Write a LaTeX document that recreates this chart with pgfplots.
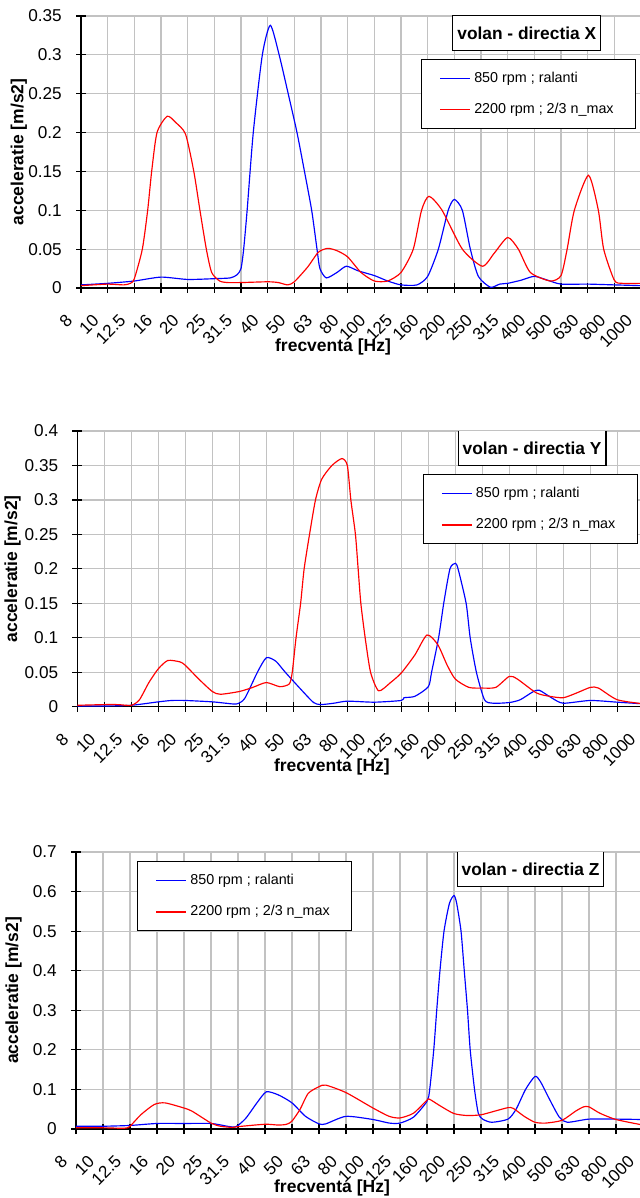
\documentclass[border=0pt]{standalone}
\usepackage{fontspec}
\setmainfont{Liberation Sans}
\usepackage{pgfplots}
\pgfplotsset{compat=1.18}

% common look of the three spectra (1 px of the reference = 0.6pt)
\pgfplotsset{
  panel/.style={
    scale only axis,
    anchor=south west,
    xmin=0, xmax=21, ymin=0,
    xtick={0,...,21},
    xticklabels={8,10,12.5,16,20,25,31.5,40,50,63,80,100,125,160,200,250,315,400,500,630,800,1000},
    axis x line*=bottom, axis y line*=left,
    axis line style={-, black, line width=0.8pt},
    tick align=center, major tick length=6pt,
    tick style={black, line width=0.7pt},
    grid=major,
    major grid style={draw=black!24, line width=0.7pt},
    /pgf/number format/fixed, /pgf/number format/precision=2,
    /pgf/number format/assume math mode=true,
    tick label style={font=\fontsize{10.3}{12}\selectfont},
    xticklabel style={inner sep=0pt, xshift=-7pt, yshift=-14.6pt, rotate=45, anchor=east},
    yticklabel style={xshift=-5pt},
    label style={font=\bfseries\fontsize{10.5}{12}\selectfont},
    xlabel={frecventa [Hz]},
    ylabel={acceleratie [m/s2]},
    legend style={draw=black, fill=white, font=\fontsize{8.6}{10}\selectfont,
      inner xsep=11pt, inner ysep=5.5pt, row sep=7.2pt, cells={anchor=west}},
    legend image code/.code={\draw[#1, line width=0.8pt] (0pt,0pt) -- (18pt,0pt);},
  },
}
\tikzset{
  sblue/.style={draw=blue, line width=0.7pt, smooth, tension=0.4},
  sred/.style={draw=red, line width=0.7pt, smooth, tension=0.4},
  titlebox/.style={draw=black, fill=white, line width=0.7pt,
    font=\bfseries\fontsize{10.4}{12}\selectfont, minimum height=21pt, inner xsep=2.7pt},
}

\begin{document}
\begin{tikzpicture}
\useasboundingbox (0,0) rectangle (383.4pt,-718.8pt);

% ---------------- directia X ----------------
\begin{axis}[panel,
  at={(48.6pt,-172.8pt)}, width=336pt, height=163.2pt,
  ymax=0.35, ytick={0,0.05,0.1,0.15,0.2,0.25,0.3,0.35},
  xlabel style={at={(axis description cs:0.45,-0.217)}, anchor=center},
  ylabel style={at={(axis description cs:-0.111,0.5)}, anchor=center},
  legend style={at={(0.607,0.842)}, anchor=north west},
]
\addplot[sblue] coordinates {
  (0,0.004) (1,0.006) (2,0.009) (3,0.014) (4,0.011) (5,0.012) (5.6,0.013)
  (5.85,0.017) (6,0.025) (6.1,0.05) (6.23,0.1) (6.46,0.2) (6.8,0.3) (7.1,0.338)
  (7.43,0.3) (7.77,0.25) (8.1,0.2) (8.38,0.15) (8.65,0.1) (8.85,0.05) (8.96,0.025)
  (9.2,0.013) (9.6,0.02) (9.95,0.028) (10.4,0.022) (11,0.016) (11.5,0.009)
  (12,0.004) (12.6,0.004) (13,0.015) (13.4,0.05) (13.77,0.1) (14,0.114) (14.3,0.1)
  (14.6,0.05) (14.9,0.015) (15.35,0.001) (15.7,0.005) (16,0.006) (16.5,0.01)
  (17,0.015) (17.5,0.01) (18,0.005) (19,0.005) (20,0.004) (21,0.003)
};
\addlegendentry{850 rpm ; ralanti}
\addplot[sred] coordinates {
  (0,0.003) (1,0.005) (1.6,0.004) (1.85,0.006) (2,0.012) (2.3,0.05) (2.5,0.1)
  (2.65,0.15) (2.85,0.2) (3.23,0.221) (3.55,0.213) (3.92,0.198) (4.23,0.15)
  (4.46,0.1) (4.7,0.05) (4.9,0.02) (5.2,0.009) (5.5,0.007) (6,0.007) (7,0.008)
  (7.4,0.007) (7.75,0.004) (8,0.008) (8.5,0.027) (8.9,0.046) (9.25,0.051)
  (9.6,0.048) (10,0.04) (10.5,0.02) (11,0.009) (11.5,0.009) (12,0.02)
  (12.46,0.05) (12.77,0.1) (13.05,0.118) (13.54,0.1) (14.3,0.05) (15.05,0.028)
  (15.5,0.045) (16,0.065) (16.4,0.05) (16.85,0.02) (17.6,0.009) (18,0.016)
  (18.23,0.05) (18.5,0.1) (19.03,0.145) (19.4,0.1) (19.6,0.05) (20,0.01)
  (20.3,0.006) (21,0.006)
};
\addlegendentry{2200 rpm ; 2/3 n\_max}
\node[titlebox] at (rel axis cs:0.796,0.936) {volan - directia X};
\end{axis}

% ---------------- directia Y ----------------
\begin{axis}[panel,
  at={(46.4pt,-424pt)}, width=340.2pt, height=165.4pt,
  ymax=0.4, ytick={0,0.05,0.1,0.15,0.2,0.25,0.3,0.35,0.4},
  xlabel style={at={(axis description cs:0.449,-0.219)}, anchor=center},
  ylabel style={at={(axis description cs:-0.114,0.5)}, anchor=center},
  legend style={at={(0.609,0.844)}, anchor=north west},
]
\addplot[sblue] coordinates {
  (0,0.001) (1,0.001) (2,0.002) (3,0.007) (3.5,0.009) (4,0.009) (5,0.007)
  (5.5,0.005) (5.9,0.004) (6.2,0.012) (6.67,0.05) (7,0.071) (7.35,0.066)
  (7.7,0.05) (8.4,0.02) (8.75,0.006) (9,0.003) (9.5,0.005) (10,0.008)
  (11,0.0065) (12,0.009) (12.1,0.013) (12.5,0.015) (13,0.029) (13.12,0.05)
  (13.38,0.1) (13.57,0.15) (13.8,0.2) (14,0.208) (14.1,0.2) (14.4,0.15)
  (14.55,0.1) (14.78,0.05) (15.08,0.01) (15.4,0.005) (16,0.006) (16.4,0.01)
  (16.85,0.021) (17.1,0.024) (17.6,0.012) (18,0.005) (19,0.009) (20,0.0065)
  (21,0.004)
};
\addlegendentry{850 rpm ; ralanti}
\addplot[sred] coordinates {
  (0,0.002) (1,0.003) (1.5,0.003) (2,0.002) (2.3,0.01) (2.65,0.035) (3,0.055)
  (3.35,0.067) (3.8,0.065) (4,0.06) (4.5,0.04) (5,0.022) (5.3,0.018) (6,0.022)
  (6.5,0.028) (7,0.035) (7.5,0.029) (7.85,0.033) (7.96,0.05) (8.1,0.1)
  (8.27,0.15) (8.4,0.2) (8.6,0.25) (8.82,0.3) (9.05,0.33) (9.43,0.35)
  (9.8,0.36) (10,0.35) (10.13,0.3) (10.3,0.25) (10.4,0.2) (10.5,0.15)
  (10.66,0.1) (10.86,0.05) (11.16,0.023) (11.6,0.035) (12,0.049) (12.5,0.075)
  (12.95,0.104) (13.35,0.09) (13.7,0.06) (14,0.04) (14.5,0.028) (15,0.027)
  (15.5,0.028) (16,0.044) (16.3,0.04) (17,0.02) (17.5,0.015) (18,0.013)
  (18.5,0.02) (19,0.028) (19.3,0.027) (20,0.01) (21,0.004)
};
\addlegendentry{2200 rpm ; 2/3 n\_max}
\node[titlebox] at (rel axis cs:0.802,0.938) {volan - directia Y};
\end{axis}

% ---------------- directia Z ----------------
\begin{axis}[panel,
  at={(45.6pt,-677.4pt)}, width=340.2pt, height=166.2pt,
  ymax=0.7, ytick={0,0.1,0.2,0.3,0.4,0.5,0.6,0.7},
  xlabel style={at={(axis description cs:0.4515,-0.213)}, anchor=center},
  ylabel style={at={(axis description cs:-0.110,0.5)}, anchor=center},
  legend style={at={(0.1076,0.9675)}, anchor=north west},
]
\addplot[sblue] coordinates {
  (0,0.007) (1,0.007) (2,0.009) (3,0.014) (4,0.014) (5,0.014) (5.6,0.007)
  (5.85,0.005) (6,0.009) (6.3,0.028) (6.7,0.066) (7.05,0.094) (7.5,0.086)
  (8,0.066) (8.5,0.032) (9,0.013) (9.25,0.013) (10,0.032) (11,0.024)
  (11.6,0.015) (12,0.015) (12.5,0.03) (13,0.07) (13.1,0.1) (13.25,0.2)
  (13.36,0.3) (13.48,0.4) (13.63,0.5) (13.83,0.57) (14,0.59) (14.1,0.57)
  (14.26,0.5) (14.38,0.4) (14.5,0.3) (14.6,0.2) (14.76,0.1) (14.9,0.04)
  (15.06,0.025) (15.4,0.017) (16,0.025) (16.3,0.05) (16.65,0.1) (17,0.133)
  (17.2,0.12) (17.5,0.08) (17.9,0.03) (18.2,0.017) (19,0.025) (20,0.025)
  (21,0.024)
};
\addlegendentry{850 rpm ; ralanti}
\addplot[sred] coordinates {
  (0,0.003) (1,0.003) (1.8,0.002) (2,0.007) (2.4,0.036) (2.9,0.062) (3.3,0.066)
  (4,0.053) (4.3,0.045) (5,0.015) (5.35,0.007) (5.8,0.004) (6,0.006) (7,0.012)
  (7.5,0.01) (7.8,0.012) (8,0.02) (8.3,0.05) (8.6,0.09) (9,0.107) (9.25,0.111)
  (10,0.092) (11,0.053) (11.6,0.032) (12,0.028) (12.5,0.04) (13,0.073)
  (13.1,0.075) (13.5,0.058) (14,0.039) (14.5,0.034) (15,0.036) (15.5,0.045)
  (16,0.054) (16.2,0.052) (16.6,0.032) (17,0.017) (17.4,0.015) (18,0.022)
  (18.5,0.045) (18.8,0.056) (19,0.056) (19.4,0.04) (20,0.024) (21,0.01)
};
\addlegendentry{2200 rpm ; 2/3 n\_max}
\node[titlebox] at (rel axis cs:0.8016,0.939) {volan - directia Z};
\end{axis}
\end{tikzpicture}
\end{document}
